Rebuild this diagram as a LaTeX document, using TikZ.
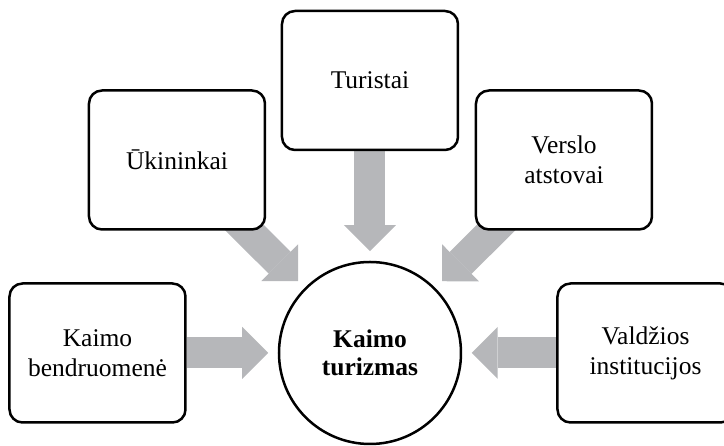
\documentclass[tikz,border=0pt]{standalone}
\usepackage{fontspec}
\setmainfont{Liberation Serif}
\usepackage{tikz}
\usetikzlibrary{arrows.meta}
\usetikzlibrary{backgrounds}
\definecolor{arrowgray}{RGB}{182,183,186}

\begin{document}
\begin{tikzpicture}
	[x=1pt, y=1pt, line width=2.5pt,
	main/.style = {draw, rounded corners=13pt, fill=white, align=center, minimum width=176pt, minimum height=139pt, font=\fontsize{25.5pt}{30pt}\selectfont},
	hub/.style = {draw, circle, fill=white, align=center, minimum size=182pt, inner sep=0pt, font=\fontsize{25.5pt}{28pt}\selectfont\bfseries},
	flow/.style = {draw=arrowgray, line width=31pt, -{Triangle[width=52pt, length=26pt, line width=0pt]}, shorten >=9.5pt}]
	\useasboundingbox (-370,-93) rectangle (354,353);
	\clip (-370,-93) rectangle (354,353);
	\node[hub] (0) at (0,0) {Kaimo\\turizmas};
	\node[main] (1) at (-272.5,0) {Kaimo\\bendruomenė};
	\node[main] (2) at (-193,193) {Ūkininkai};
	\node[main] (3) at (0,272.5) {Turistai};
	\node[main] (4) at (194,193) {Verslo\\atstovai};
	\node[main] (5) at (275.5,0) {Valdžios\\institucijos};
	\begin{pgfonlayer}{background}
		\draw[flow] (1) -- (0);
		\draw[flow, shorten <=-30pt] (2) -- (0);
		\draw[flow] (3) -- (0);
		\draw[flow, shorten <=-30pt] (4) -- (0);
		\draw[flow] (5) -- (0);
	\end{pgfonlayer}
\end{tikzpicture}
\end{document}
